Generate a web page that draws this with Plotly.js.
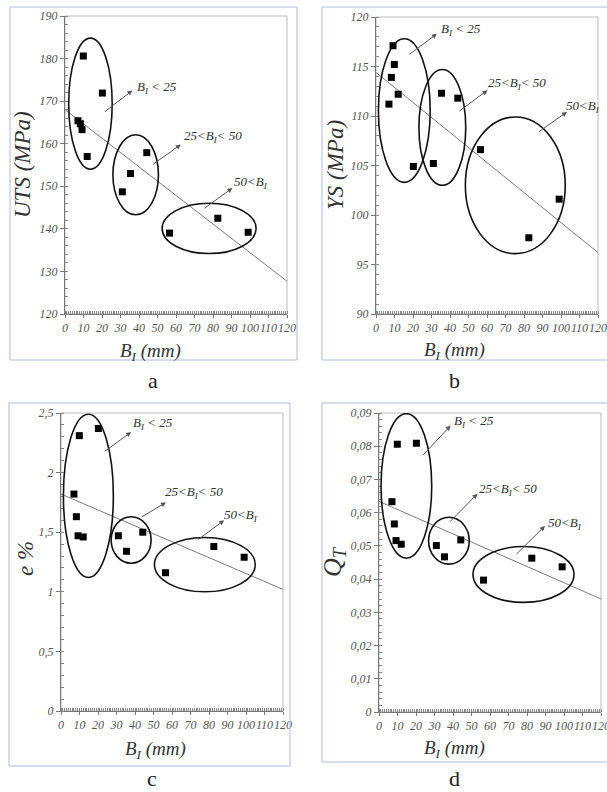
<!DOCTYPE html>
<html>
<head>
<meta charset="utf-8">
<script src="https://cdn.plot.ly/plotly-3.0.1.min.js"></script>
<style>html,body{margin:0;padding:0;background:#fff;}</style>
</head>
<body>
<div id="chart"></div>
<script>
// ---- data ----
const bI = [7.0, 8.3, 9.2, 9.9, 12.0, 20.2, 31.0, 35.4, 44.2, 56.5, 82.6, 99.0];
const uts = [165.4, 164.7, 163.3, 180.6, 157.0, 171.9, 148.7, 153.0, 157.9, 139.0, 142.5, 139.2];
const ys = [111.2, 113.9, 117.1, 115.2, 112.2, 104.9, 105.2, 112.3, 111.8, 106.6, 97.7, 101.6];
const elong = [1.82, 1.63, 1.47, 2.31, 1.46, 2.37, 1.47, 1.34, 1.50, 1.16, 1.38, 1.29];
const qt = [0.0633, 0.0566, 0.0516, 0.0806, 0.0505, 0.0809, 0.0501, 0.0467, 0.0518, 0.0397, 0.0463, 0.0437];

const trendX = [0, 120];
const trendUTS = [168.0, 127.7];
const trendYS = [114.4, 96.2];
const trendE = [1.82, 1.02];
const trendQ = [0.0634, 0.034];

const xTicks = [0, 10, 20, 30, 40, 50, 60, 70, 80, 90, 100, 110, 120];
const yTicksA = [120, 130, 140, 150, 160, 170, 180, 190];
const yTicksB = [90, 95, 100, 105, 110, 115, 120];
const yTicksC = [0, 0.5, 1, 1.5, 2, 2.5];
const yTickTextC = ['0', '0,5', '1', '1,5', '2', '2,5'];
const yTicksD = [0, 0.01, 0.02, 0.03, 0.04, 0.05, 0.06, 0.07, 0.08, 0.09];
const yTickTextD = ['0', '0,01', '0,02', '0,03', '0,04', '0,05', '0,06', '0,07', '0,08', '0,09'];

const groupLabels = ['B<sub>I</sub> < 25', '25<B<sub>I</sub>< 50', '50<B<sub>I</sub>'];
const panelLetters = ['a', 'b', 'c', 'd'];
const yTitles = ['UTS (MPa)', 'YS (MPa)', 'e %', 'Q<sub>T</sub>'];
const xTitle = 'B<sub>I</sub> (mm)';

// ---- layout helpers ----
const W = 607, H = 792;
const px = v => v / W, py = v => 1 - v / H;
const serif = 'Times New Roman';

const areas = [[65, 287, 16, 314], [376, 598, 17, 314], [61, 283, 413, 711], [379, 601, 413, 712]];
const frames = [[10, 297, 7, 360], [322, 609, 7, 360], [9, 290, 403, 766], [322, 609, 403, 762]];

const panels = [
  {y: uts, trend: trendUTS, range: [120, 190], tv: yTicksA, tt: yTicksA.map(String), minor: 2,
   ell: [[2, 25.5, 154, 184.8], [25.9, 50.5, 143.3, 162.1], [52.5, 103.3, 134.2, 146]],
   arr: [[20.8, 167.3, 36.4, 172.5], [46.7, 154.9, 62.6, 159.8], [74.7, 144.6, 90.5, 149.6]],
   lab: [[37.6, 173.3], [63, 161.7], [90.5, 150.9]],
   ytpos: [22, 165], xtpos: [150, 352], letter: [153, 380]},
  {y: ys, trend: trendYS, range: [90, 120], tv: yTicksB, tt: yTicksB.map(String), minor: 1,
   ell: [[1.3, 29.3, 103.3, 117.8], [23.2, 48.5, 103.0, 114.7], [48.3, 102.3, 96.1, 109.9]],
   arr: [[17.2, 116.1, 32.9, 118.3], [44.3, 110.4, 60.3, 112.6], [87.2, 108.3, 103.2, 110.4]],
   lab: [[34, 118.7], [59.4, 113.3], [101.4, 111.0]],
   ytpos: [335, 165], xtpos: [455, 351], letter: [455, 380]},
  {y: elong, trend: trendE, range: [0, 2.5], tv: yTicksC, tt: yTickTextC, minor: 0.1,
   ell: [[1.3, 28.3, 1.12, 2.49], [27.1, 48.7, 1.24, 1.63], [50.5, 105, 1.0, 1.456]],
   arr: [[22.9, 2.17, 37.9, 2.34], [42.8, 1.62, 56.7, 1.75], [73.4, 1.43, 88.2, 1.60]],
   lab: [[37.9, 2.41], [55.4, 1.83], [87, 1.64]],
   ytpos: [25, 558], xtpos: [155, 750], letter: [152, 778]},
  {y: qt, trend: trendQ, range: [0, 0.09], tv: yTicksD, tt: yTickTextD, minor: 0.002,
   ell: [[1.1, 28.5, 0.0463, 0.0898], [26.8, 48.8, 0.0445, 0.0586], [50.8, 105.4, 0.033, 0.0498]],
   arr: [[23.1, 0.0769, 38.7, 0.0862], [37.5, 0.0568, 53.2, 0.0657], [73.5, 0.0471, 89.7, 0.056]],
   lab: [[39.3, 0.0875], [52.8, 0.0669], [90.3, 0.0568]],
   ytpos: [334, 562], xtpos: [455, 749], letter: [455, 778]}
];

const data = [];
const layout = {
  width: W, height: H, margin: {l: 0, r: 0, t: 0, b: 0},
  paper_bgcolor: '#fff', plot_bgcolor: '#fff', showlegend: false,
  font: {family: serif},
  separators: ', ', shapes: [], annotations: []
};

panels.forEach((p, i) => {
  const n = i === 0 ? '' : String(i + 1);
  const xa = 'x' + n, ya = 'y' + n;
  const [l, r, t, b] = areas[i];
  const tickFont = {family: serif, size: 12, color: '#555', style: 'italic'};
  layout['xaxis' + n] = {
    domain: [px(l), px(r)], anchor: ya, range: [0, 120], tickvals: xTicks, ticktext: xTicks.map(String),
    showgrid: false, zeroline: false, showline: true, linecolor: '#777', linewidth: 1,
    ticks: 'outside', ticklen: 3, tickcolor: '#777', tickfont: tickFont, tickangle: 0,
    ticklabeloverflow: 'allow',
    minor: {dtick: 1, ticks: 'inside', ticklen: 3, tickcolor: '#888', showgrid: false}
  };
  layout['yaxis' + n] = {
    domain: [py(b), py(t)], anchor: xa, range: p.range, tickvals: p.tv, ticktext: p.tt,
    showgrid: false, zeroline: false, showline: true, linecolor: '#777', linewidth: 1,
    ticks: 'outside', ticklen: 4, tickcolor: '#777', tickfont: tickFont, ticklabeloverflow: 'allow',
    minor: {dtick: p.minor, ticks: 'inside', ticklen: 3, tickcolor: '#888', showgrid: false}
  };
  data.push({x: trendX, y: p.trend, xaxis: xa, yaxis: ya, mode: 'lines', type: 'scatter',
    line: {color: '#7a7a7a', width: 1}, hoverinfo: 'skip'});
  data.push({x: bI, y: p.y, xaxis: xa, yaxis: ya, mode: 'markers', type: 'scatter',
    marker: {symbol: 'square', size: 7, color: '#000'}});
  layout.shapes.push({type: 'rect', xref: xa + ' domain', yref: ya + ' domain', x0: 0, x1: 1, y0: 0, y1: 1,
    line: {color: '#bbb', width: 1}, layer: 'below'});
  const f = frames[i];
  layout.shapes.push({type: 'rect', xref: 'paper', yref: 'paper', x0: px(f[0]), x1: px(f[1]), y0: py(f[3]), y1: py(f[2]),
    line: {color: '#aabbdd', width: 1}});
  p.ell.forEach(e => layout.shapes.push({type: 'circle', xref: xa, yref: ya, x0: e[0], x1: e[1], y0: e[2], y1: e[3],
    line: {color: '#111', width: 1.6}}));
  p.arr.forEach(a => layout.annotations.push({xref: xa, yref: ya, axref: xa, ayref: ya,
    x: a[2], y: a[3], ax: a[0], ay: a[1], text: '', showarrow: true, arrowhead: 2, arrowsize: 1,
    arrowwidth: 1, arrowcolor: '#555'}));
  p.lab.forEach((lb, k) => layout.annotations.push({xref: xa, yref: ya, x: lb[0], y: lb[1], text: groupLabels[k],
    showarrow: false, xanchor: 'left', yanchor: 'middle',
    font: {family: serif, size: 13, color: '#333', style: 'italic'}}));
  layout.annotations.push({xref: 'paper', yref: 'paper', x: px(p.ytpos[0]), y: py(p.ytpos[1]), text: yTitles[i],
    textangle: -90, showarrow: false, xanchor: 'center', yanchor: 'middle',
    font: {family: serif, size: i === 3 ? 26 : 23, color: '#333', style: 'italic'}});
  layout.annotations.push({xref: 'paper', yref: 'paper', x: px(p.xtpos[0]), y: py(p.xtpos[1]), text: xTitle,
    showarrow: false, xanchor: 'center', yanchor: 'middle',
    font: {family: serif, size: 19, color: '#333', style: 'italic'}});
  layout.annotations.push({xref: 'paper', yref: 'paper', x: px(p.letter[0]), y: py(p.letter[1]), text: panelLetters[i],
    showarrow: false, xanchor: 'center', yanchor: 'middle',
    font: {family: serif, size: 22, color: '#222'}});
});

Plotly.newPlot('chart', data, layout, {displayModeBar: false});
</script>
</body>
</html>
